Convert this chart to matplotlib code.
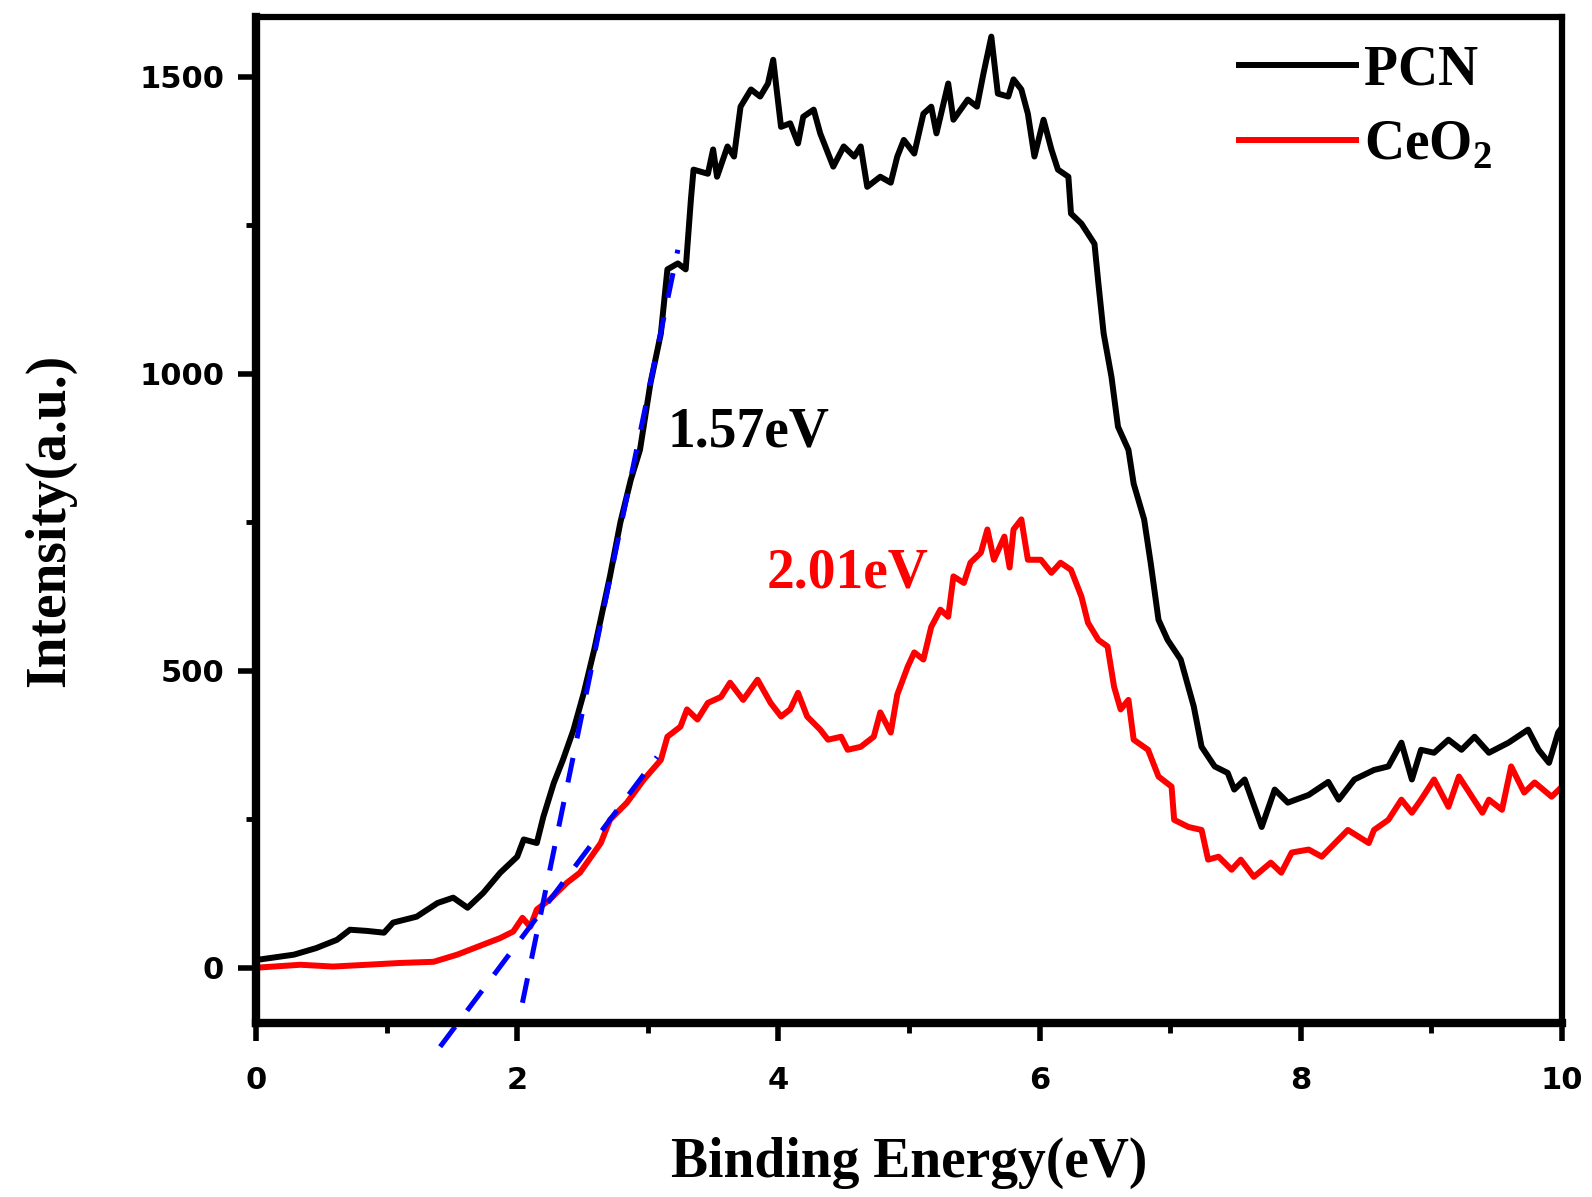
import matplotlib
matplotlib.use("Agg")
import matplotlib.pyplot as plt
from matplotlib.ticker import MultipleLocator
from matplotlib.lines import Line2D

# Valores (eV, intensidade)
pcn_x = [0.0, 0.29, 0.46, 0.62, 0.72, 0.85, 0.98, 1.05, 1.23, 1.39, 1.51, 1.62, 1.74, 1.87,
         2.00, 2.05, 2.15, 2.20, 2.28, 2.35, 2.43, 2.51, 2.59, 2.71, 2.79, 2.87, 2.94, 3.02,
         3.10, 3.15, 3.23, 3.29, 3.33, 3.35, 3.46, 3.50, 3.53, 3.61, 3.66, 3.71, 3.79, 3.86,
         3.92, 3.96, 3.99, 4.02, 4.09, 4.15, 4.19, 4.27, 4.32, 4.42, 4.50, 4.58, 4.63, 4.68,
         4.78, 4.86, 4.91, 4.96, 5.04, 5.11, 5.17, 5.21, 5.30, 5.34, 5.45, 5.52, 5.57, 5.63,
         5.68, 5.76, 5.80, 5.86, 5.91, 5.96, 6.03, 6.09, 6.14, 6.22, 6.24, 6.32, 6.42, 6.45,
         6.49, 6.55, 6.60, 6.68, 6.72, 6.80, 6.85, 6.91, 6.98, 7.08, 7.18, 7.24, 7.34, 7.44,
         7.49, 7.57, 7.70, 7.80, 7.90, 8.06, 8.21, 8.29, 8.41, 8.56, 8.67, 8.77, 8.85, 8.92,
         9.02, 9.13, 9.23, 9.33, 9.44, 9.59, 9.74, 9.82, 9.90, 9.97, 10.0]
pcn_y = [13, 22, 33, 47, 64, 62, 59, 76, 86, 109, 118, 101, 126, 160,
         187, 216, 210, 254, 311, 350, 400, 463, 536, 659, 750, 822, 872, 984,
         1068, 1176, 1186, 1176, 1294, 1344, 1337, 1378, 1332, 1383, 1366, 1450, 1479, 1467,
         1489, 1529, 1472, 1416, 1422, 1388, 1433, 1445, 1405, 1349, 1383, 1366, 1383, 1315,
         1332, 1322, 1366, 1394, 1371, 1438, 1450, 1405, 1489, 1428, 1462, 1450, 1506, 1568,
         1472, 1467, 1496, 1479, 1438, 1366, 1428, 1378, 1344, 1332, 1270, 1253, 1219, 1152,
         1068, 995, 911, 872, 815, 755, 682, 586, 552, 519, 440, 372, 339, 328,
         300, 317, 237, 300, 278, 291, 313, 283, 317, 333, 339, 379, 317, 367,
         362, 384, 367, 389, 362, 379, 401, 367, 345, 396, 405]

ceo2_x = [0.0, 0.34, 0.59, 0.85, 1.10, 1.36, 1.54, 1.74, 1.87, 1.97, 2.04, 2.10, 2.15, 2.25,
          2.38, 2.48, 2.64, 2.71, 2.84, 2.97, 3.10, 3.15, 3.25, 3.30, 3.38, 3.46, 3.56, 3.63,
          3.73, 3.84, 3.94, 4.02, 4.09, 4.15, 4.22, 4.32, 4.38, 4.48, 4.53, 4.63, 4.73, 4.78,
          4.86, 4.91, 4.99, 5.04, 5.11, 5.17, 5.24, 5.30, 5.34, 5.42, 5.47, 5.55, 5.60, 5.65,
          5.73, 5.77, 5.80, 5.86, 5.91, 6.01, 6.09, 6.16, 6.24, 6.32, 6.37, 6.45, 6.52, 6.57,
          6.62, 6.68, 6.72, 6.83, 6.91, 7.01, 7.03, 7.14, 7.24, 7.29, 7.37, 7.47, 7.54, 7.64,
          7.77, 7.85, 7.93, 8.06, 8.16, 8.36, 8.52, 8.56, 8.67, 8.77, 8.85, 8.92, 9.02, 9.13,
          9.21, 9.39, 9.44, 9.54, 9.61, 9.71, 9.79, 9.92, 10.0]
ceo2_y = [0, 5, 2, 5, 8, 10, 22, 39, 50, 61, 84, 69, 98, 115,
          143, 160, 210, 249, 278, 317, 350, 389, 406, 435, 418, 446, 456, 480,
          451, 485, 446, 423, 435, 463, 423, 401, 384, 389, 367, 372, 389, 430,
          396, 460, 507, 531, 519, 574, 603, 591, 659, 648, 682, 699, 738, 687,
          726, 674, 738, 755, 687, 687, 665, 682, 670, 625, 581, 552, 541, 473,
          435, 451, 384, 367, 322, 305, 249, 237, 232, 182, 187, 165, 182, 153,
          177, 160, 194, 199, 187, 232, 210, 232, 249, 283, 261, 283, 317, 271,
          322, 261, 283, 266, 339, 295, 312, 288, 305]

# retas tangentes (band gap)
tan_pcn_x = [2.04, 3.23]
tan_pcn_y = [-59, 1209]
tan_ceo2_x = [1.41, 3.07]
tan_ceo2_y = [-133, 355]

plt.rcParams["mathtext.fontset"] = "custom"
plt.rcParams["mathtext.rm"] = "Liberation Serif:bold"
plt.rcParams["mathtext.bf"] = "Liberation Serif:bold"

fig = plt.figure(figsize=(15.92, 11.97), dpi=100)
ax = fig.add_axes([0.1608, 0.1454, 0.8204, 0.8404])

ax.plot(pcn_x, pcn_y, color="black", lw=4.3)
ax.plot(ceo2_x, ceo2_y, color="#ff0000", lw=4.3)
ax.plot(tan_pcn_x, tan_pcn_y, color="#0000ff", lw=3.6, dashes=(5, 4), clip_on=False)
ax.plot(tan_ceo2_x, tan_ceo2_y, color="#0000ff", lw=3.6, dashes=(5, 4), clip_on=False)

serif = {"family": "Liberation Serif", "weight": "bold"}
ax.text(3.15, 877, "1.57eV", fontsize=40, color="black", va="baseline", **serif)
ax.text(3.91, 641, "2.01eV", fontsize=40, color="#ff0000", va="baseline", **serif)

ax.set_xlim(0, 10)
ax.set_ylim(-93, 1601)
ax.xaxis.set_major_locator(MultipleLocator(2))
ax.xaxis.set_minor_locator(MultipleLocator(1))
ax.yaxis.set_major_locator(MultipleLocator(500))
ax.yaxis.set_minor_locator(MultipleLocator(250))
ax.tick_params(which="major", direction="out", length=13, width=4, pad=10)
ax.tick_params(which="minor", direction="out", length=7, width=3.5)
ax.tick_params(axis="x", which="major", pad=18)
for lab in ax.get_xticklabels() + ax.get_yticklabels():
    lab.set_fontfamily("DejaVu Sans")
    lab.set_fontweight("bold")
    lab.set_fontsize(22)

for s in ["left", "bottom"]:
    ax.spines[s].set_linewidth(6)
for s in ["top", "right"]:
    ax.spines[s].set_linewidth(4.5)

ax.set_xlabel("Binding Energy(eV)", fontsize=40, labelpad=30, **serif)
ax.set_ylabel("Intensity(a.u.)", fontsize=40, labelpad=45, **serif)

handles = [Line2D([], [], color="black", lw=4.3), Line2D([], [], color="#ff0000", lw=4.3)]
leg = ax.legend(handles, ["PCN", "CeO$_2$"], loc="upper right", bbox_to_anchor=(0.985, 1.022),
                frameon=False, handlelength=2.1, handletextpad=0.15, labelspacing=0.4,
                prop={"family": "Liberation Serif", "weight": "bold", "size": 40})

fig.savefig("out.png", dpi=100)
